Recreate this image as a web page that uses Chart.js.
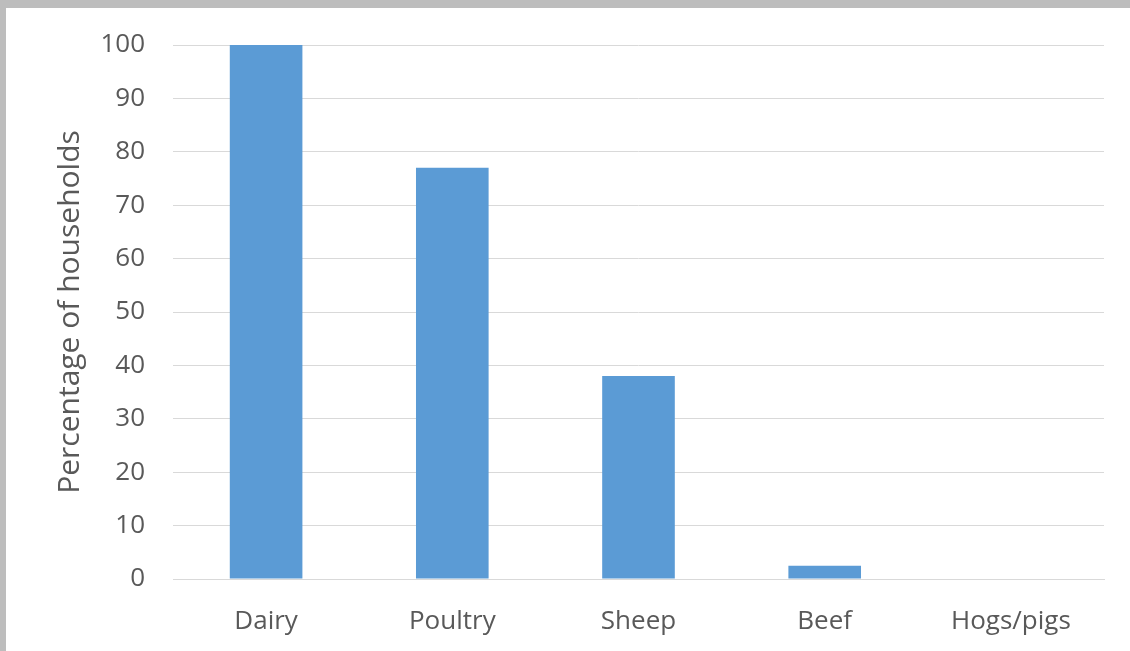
<!DOCTYPE html>
<html>
<head>
<meta charset="utf-8">
<script src="https://cdn.jsdelivr.net/npm/chart.js@4/dist/chart.umd.min.js"></script>
<style>
  html, body { margin: 0; padding: 0; background: #fff; }
  #frame {
    width: 1124px; height: 643px;
    border-top: 8px solid #bdbdbd;
    border-left: 6px solid #bdbdbd;
  }
</style>
</head>
<body>
<div id="frame"><canvas id="livestock" width="1124" height="643"></canvas></div>
<script>
const categories = ['Dairy', 'Poultry', 'Sheep', 'Beef', 'Hogs/pigs'];
const households = [100, 77, 38, 2.5, 0];
const yTicks = [0, 10, 20, 30, 40, 50, 60, 70, 80, 90, 100];

const textGray = '#595959';
const gridGray = '#d9d9d9';

const ctx = document.getElementById('livestock').getContext('2d');
new Chart(ctx, {
	type: 'bar',
	data: {
		labels: categories,
		datasets: [{
			label: 'Percentage of households',
			data: households,
			backgroundColor: '#5b9bd5',
			categoryPercentage: 1,
			barPercentage: 0.39
		}]
	},
	options: {
		responsive: false,
		animation: false,
		layout: { padding: { top: 37, right: 26, left: 0, bottom: 0 } },
		plugins: {
			legend: { display: false },
			tooltip: { enabled: false }
		},
		scales: {
			x: {
				grid: { display: false, drawTicks: false },
				border: { color: gridGray, width: 1 },
				ticks: {
					color: textGray,
					font: { family: 'Open Sans', size: 26 },
					padding: 27
				},
				afterFit: function (scale) { scale.height = 72; }
			},
			y: {
				min: 0,
				max: 100,
				afterBuildTicks: function (scale) {
					scale.ticks = yTicks.map(v => ({ value: v }));
				},
				grid: { color: gridGray, lineWidth: 1, drawTicks: false },
				border: { display: false },
				ticks: {
					color: textGray,
					// small lineHeight so the top label doesn't push the plot down
					font: { family: 'Open Sans', size: 26, lineHeight: 0.5 },
					padding: 28
				},
				title: {
					display: true,
					text: 'Percentage of households',
					color: textGray,
					font: { family: 'Open Sans', size: 30 },
					padding: { top: 46, bottom: 0 }
				},
				afterFit: function (scale) { scale.width = 167; }
			}
		}
	}
});
</script>
</body>
</html>
